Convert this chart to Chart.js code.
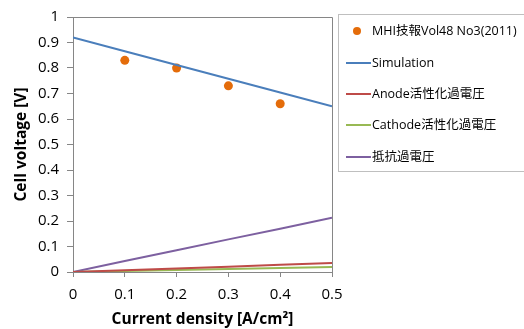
<!DOCTYPE html>
<html>
<head>
<meta charset="utf-8">
<script src="https://cdn.jsdelivr.net/npm/chart.js@4"></script>
<style>
html,body{margin:0;padding:0;background:#fff;}
#wrap{width:524px;height:329px;position:relative;}
</style>
</head>
<body>
<div id="wrap"><canvas id="c" width="524" height="329"></canvas></div>
<script>
// ---- data ----
const currentDensity = [0, 0.1, 0.2, 0.3, 0.4, 0.5];
const measuredCurrent = [0.1, 0.2, 0.3, 0.4];
const measuredVoltage = [0.83, 0.80, 0.73, 0.66];
const simulationVoltage = [0.92, 0.866, 0.812, 0.758, 0.704, 0.65];
const anodeOverpotential = [0, 0.007, 0.014, 0.021, 0.028, 0.035];
const cathodeOverpotential = [0, 0.004, 0.008, 0.012, 0.016, 0.02];
const ohmicOverpotential = [0, 0.043, 0.085, 0.128, 0.17, 0.213];
const seriesNames = ['MHI技報Vol48 No3(2011)', 'Simulation', 'Anode活性化過電圧', 'Cathode活性化過電圧', '抵抗過電圧'];
const xTitle = 'Current density [A/cm²]';
const yTitle = 'Cell voltage [V]';

const FONT = "'Open Sans','Noto Sans CJK JP',sans-serif";
const colors = ['#E46C0A', '#4A7EBB', '#BE4B48', '#98B954', '#7D60A0'];

const pts = (xs, ys) => xs.map((x, i) => ({x: x, y: ys[i]}));

const lineDs = (label, ys, color) => ({
  label: label, data: pts(currentDensity, ys), showLine: true,
  borderColor: color, backgroundColor: color, borderWidth: 2,
  pointRadius: 0, tension: 0, order: 0
});

const datasets = [
  {label: seriesNames[0], data: pts(measuredCurrent, measuredVoltage), showLine: false,
   pointRadius: 4.5, pointHoverRadius: 4.5, backgroundColor: colors[0], borderColor: colors[0], borderWidth: 0, order: 1},
  lineDs(seriesNames[1], simulationVoltage, colors[1]),
  lineDs(seriesNames[2], anodeOverpotential, colors[2]),
  lineDs(seriesNames[3], cathodeOverpotential, colors[3]),
  lineDs(seriesNames[4], ohmicOverpotential, colors[4])
];

const frame = {
  id: 'frame',
  beforeDatasetsDraw(chart) {
    const a = chart.chartArea, ctx = chart.ctx;
    ctx.save();
    ctx.strokeStyle = '#868686';
    ctx.lineWidth = 1;
    ctx.beginPath();
    ctx.moveTo(Math.round(a.left) + 0.5, Math.round(a.top) + 0.5);
    ctx.lineTo(Math.round(a.right) + 0.5, Math.round(a.top) + 0.5);
    ctx.lineTo(Math.round(a.right) + 0.5, Math.round(a.bottom) + 0.5);
    ctx.stroke();
    ctx.restore();
  },
  afterDraw(chart) {
    const ctx = chart.ctx;
    ctx.save();
    // legend box
    ctx.strokeStyle = '#BFBFBF';
    ctx.lineWidth = 1;
    ctx.strokeRect(338.5, 14.5, 200, 157);
    const rowY = [31, 63, 94, 125, 157];
    ctx.font = '12.5px ' + FONT;
    ctx.textBaseline = 'middle';
    ctx.fillStyle = '#000';
    chart.data.datasets.forEach((ds, i) => {
      const y = rowY[i];
      if (i === 0) {
        ctx.beginPath();
        ctx.fillStyle = ds.backgroundColor;
        ctx.arc(357, y, 4, 0, Math.PI * 2);
        ctx.fill();
      } else {
        ctx.strokeStyle = ds.borderColor;
        ctx.lineWidth = 2;
        ctx.beginPath();
        ctx.moveTo(346, y);
        ctx.lineTo(371, y);
        ctx.stroke();
      }
      ctx.fillStyle = '#000';
      ctx.fillText(ds.label, 372, y);
    });
    ctx.restore();
  }
};

const tickFmt = v => String(+Number(v).toFixed(1));

new Chart(document.getElementById('c'), {
  type: 'scatter',
  data: {datasets: datasets},
  plugins: [frame],
  options: {
    responsive: false,
    animation: false,
    devicePixelRatio: 1,
    layout: {padding: {top: 15, right: 192, left: 12, bottom: 0}},
    plugins: {legend: {display: false}, tooltip: {enabled: false}},
    scales: {
      x: {
        type: 'linear', min: 0, max: 0.5,
        ticks: {stepSize: 0.1, callback: tickFmt, color: '#000', font: {family: FONT, size: 15}, padding: 9, maxRotation: 0},
        grid: {drawOnChartArea: false, drawTicks: true, tickLength: 5, color: '#868686'},
        border: {display: true, color: '#868686'},
        title: {display: true, text: xTitle, color: '#000', font: {family: FONT, size: 15.5, weight: 'bold'}, padding: {top: 1, bottom: 0}},
        afterFit(s) { s.height = 57; }
      },
      y: {
        type: 'linear', min: 0, max: 1,
        ticks: {stepSize: 0.1, callback: tickFmt, color: '#000', font: {family: FONT, size: 15}, padding: 8},
        grid: {drawOnChartArea: false, drawTicks: true, tickLength: 6, color: '#868686'},
        border: {display: true, color: '#868686'},
        title: {display: true, text: yTitle, color: '#000', font: {family: FONT, size: 15.5, weight: 'bold'}, padding: {top: 0, bottom: 4}},
        afterFit(s) { s.width = 61; }
      }
    }
  }
});
</script>
</body>
</html>
